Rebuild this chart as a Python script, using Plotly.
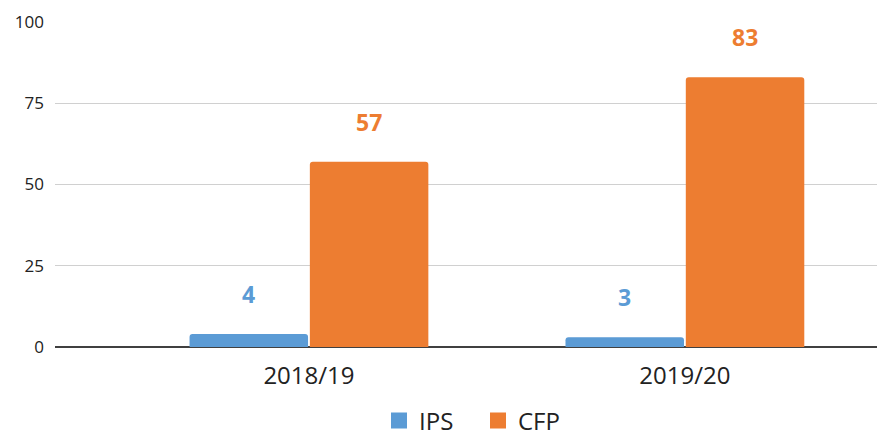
import plotly.graph_objects as go

categories = ["2018/19", "2019/20"]
ips_values = [4, 3]
cfp_values = [57, 83]
y_ticks = [0, 25, 50, 75, 100]

BLUE = "#5B9BD5"
ORANGE = "#ED7D31"
FONT = "Open Sans, Segoe UI, sans-serif"

fig = go.Figure()
fig.add_trace(go.Bar(name="IPS", x=categories, y=ips_values, showlegend=False,
                     marker=dict(color=BLUE, line=dict(width=0))))
fig.add_trace(go.Bar(name="CFP", x=categories, y=cfp_values, showlegend=False,
                     marker=dict(color=ORANGE, line=dict(width=0))))
# legend entries with larger square swatches
for name, col in (("IPS", BLUE), ("CFP", ORANGE)):
    fig.add_trace(go.Scatter(name=name, x=[None], y=[None], mode="markers",
                             marker=dict(symbol="square", size=16, color=col)))

# value labels above bars
for i, cat in enumerate(categories):
    for vals, col, off in ((ips_values, BLUE, -0.16), (cfp_values, ORANGE, 0.16)):
        fig.add_annotation(x=i + off, y=vals[i], text=f"<b>{vals[i]}</b>", showarrow=False,
                           yanchor="middle", yshift=40, xref="x", yref="y",
                           font=dict(family=FONT, size=23, color=col))

fig.update_layout(
    width=877, height=438,
    margin=dict(l=55, r=0, t=22, b=91, autoexpand=False),
    paper_bgcolor="white", plot_bgcolor="white",
    barmode="group", bargap=0.36, bargroupgap=0.015, barcornerradius=3,
    font=dict(family=FONT, color="#222"),
    showlegend=True,
    legend=dict(orientation="h", x=0.5146, xanchor="center", y=-0.2277, yanchor="middle",
                font=dict(size=24, color="#222"), itemsizing="trace", traceorder="normal",
                entrywidth=54, entrywidthmode="pixels", tracegroupgap=0,
                bgcolor="rgba(0,0,0,0)"),
    xaxis=dict(type="category", range=[-0.6755, 1.511], showgrid=False, showline=False,
               automargin=False, ticks="", ticklabelstandoff=12,
               tickfont=dict(size=24, color="#222"), fixedrange=True),
    yaxis=dict(range=[0, 100], tickvals=y_ticks, showgrid=True, gridcolor="#d0d0d0", gridwidth=1,
               automargin=False, zeroline=True, zerolinecolor="#404040", zerolinewidth=1.5,
               ticks="", ticklabelstandoff=10, tickfont=dict(size=17, color="#222"), showline=False,
               fixedrange=True),
)

fig.write_html("out.html", config={"displayModeBar": False},
               post_script="document.body.style.margin='0px';")
